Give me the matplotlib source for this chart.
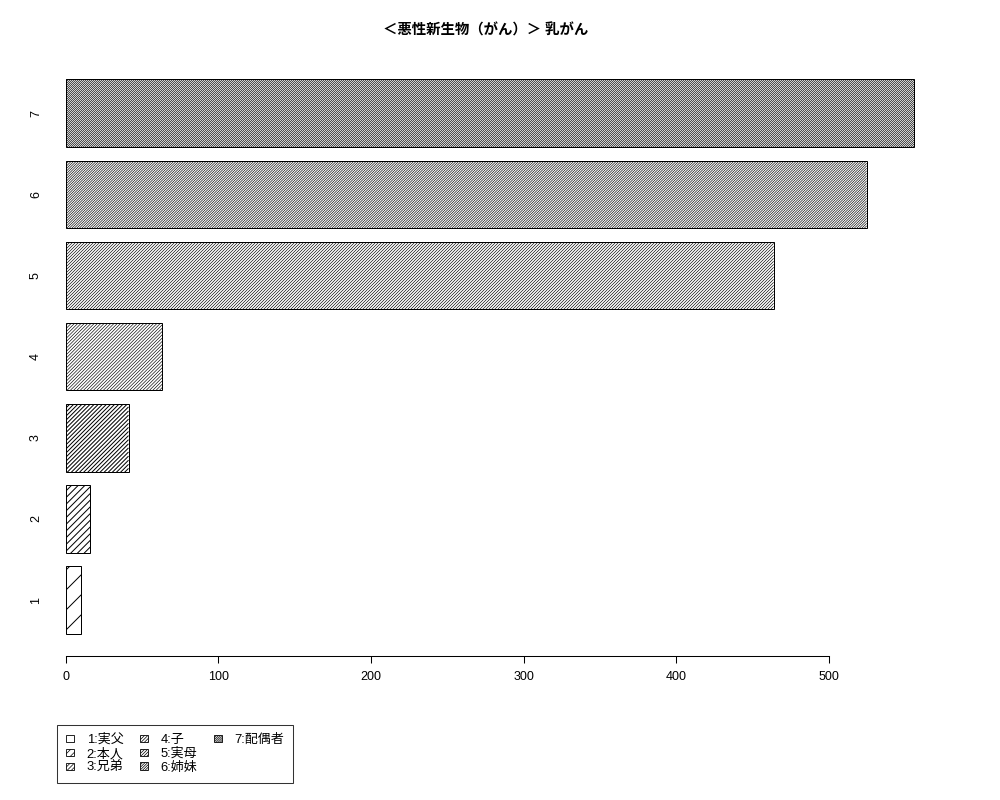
import matplotlib
matplotlib.use("Agg")
import numpy as np
import matplotlib.pyplot as plt
from matplotlib.patches import Patch
from matplotlib.collections import LineCollection
from matplotlib.transforms import IdentityTransform

plt.rcParams['font.family'] = ['Liberation Sans', 'Noto Sans CJK JP', 'DejaVu Sans']
plt.rcParams['hatch.linewidth'] = 0.5
plt.rcParams['hatch.color'] = 'black'

title = "＜悪性新生物（がん）＞ 乳がん"
categories = ["1", "2", "3", "4", "5", "6", "7"]
legend_labels = ["1:実父", "2:本人", "3:兄弟", "4:子", "5:実母", "6:姉妹", "7:配偶者"]
values = [10, 16, 41, 63, 464, 525, 556]
x_ticks = [0, 100, 200, 300, 400, 500]

# shading: horizontal gap between the diagonal lines, in pixels
line_gaps = [20, 6.7, 4.1, 3.3, 3.0, 2.5, 2.0]
legend_hatches = ['/' * n for n in [2, 5, 8, 10, 11, 13, 16]]

fig = plt.figure(figsize=(10, 8), dpi=100)
ax = fig.add_axes([0.0492, 0.18, 0.8709, 0.7484])

pos = [0.7 + 1.2 * i for i in range(len(values))]
bars = ax.barh(pos, values, height=1.0, color='white', edgecolor='black',
               linewidth=0.72)

ax.set_xlim(-11, 560)
ax.set_ylim(-0.128, 8.728)

# draw the 45 degree shading in pixel space so the pattern stays even
for rect, gap in zip(bars.patches, line_gaps):
    (x0, y0), (x1, y1) = ax.transData.transform(
        [(rect.get_x(), rect.get_y()),
         (rect.get_x() + rect.get_width(), rect.get_y() + rect.get_height())])
    offsets = np.arange(np.floor(y0 - x1), y1 - x0 + gap, gap)
    segs = [[(x0, x0 + c), (x1, x1 + c)] for c in offsets]
    lw = 0.72 if gap >= 4 else 0.45
    lc = LineCollection(segs, colors='black', linewidths=lw,
                        transform=IdentityTransform(), zorder=1.5)
    ax.add_collection(lc, autolim=False)
    lc.set_clip_path(rect)

for s in ['top', 'right', 'left']:
    ax.spines[s].set_visible(False)
ax.spines['bottom'].set_bounds(0, 500)
ax.spines['bottom'].set_linewidth(0.75)

ax.set_xticks(x_ticks)
ax.set_xticklabels([str(t) for t in x_ticks], fontsize=9)
ax.tick_params(axis='x', length=5.3, width=0.75, pad=5.2)

ax.set_yticks(pos)
ax.set_yticklabels(categories, fontsize=9, rotation=90, va='center')
ax.tick_params(axis='y', length=0, pad=5.2)

fig.text(0.486, 0.9625, title, ha='center', va='center',
         fontsize=10.4, fontweight='bold')

handles = [Patch(facecolor='white', edgecolor='black', linewidth=0.6, hatch=h)
           for h in legend_hatches]
labels = list(legend_labels)
# pad the last column so the entries fill columns of three like the original
blank = Patch(facecolor='none', edgecolor='none')
handles += [blank, blank]
labels += ["", ""]
leg = fig.legend(handles, labels, ncol=3, loc='upper left',
                 bbox_to_anchor=(0.057, 0.09375), bbox_transform=fig.transFigure,
                 fontsize=9.4, frameon=True, fancybox=False, borderaxespad=0,
                 handlelength=0.6, handleheight=0.5, handletextpad=1.0,
                 columnspacing=1.25, labelspacing=0.12, borderpad=0.68)
leg.get_frame().set_edgecolor('black')
leg.get_frame().set_linewidth(0.75)

fig.savefig("out.png", dpi=100)
